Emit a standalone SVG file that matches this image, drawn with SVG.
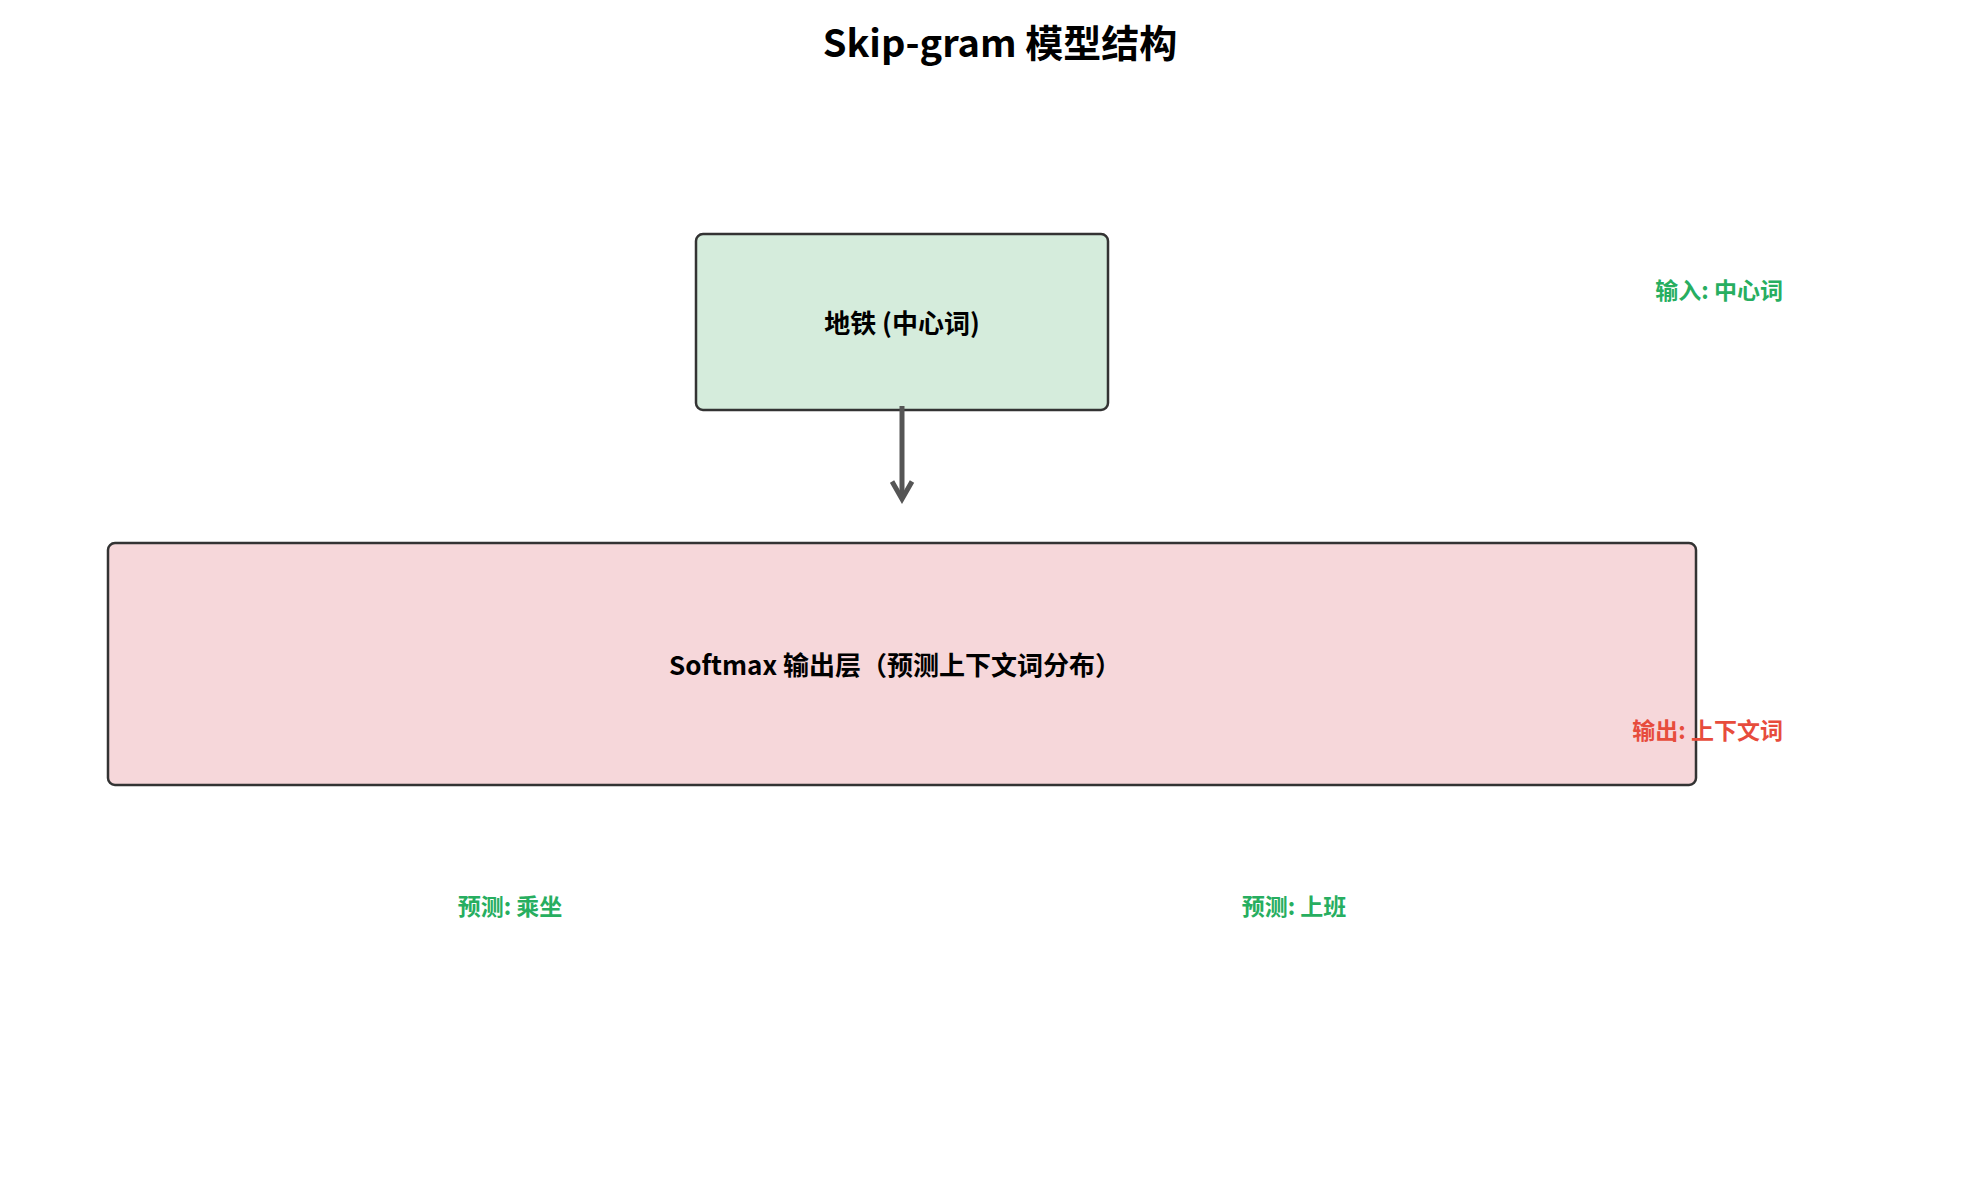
<svg xmlns="http://www.w3.org/2000/svg" width="1979" height="1180" viewBox="0 0 1979 1180">
<style>
text{font-family:"Noto Sans CJK SC","Liberation Sans",sans-serif;font-weight:bold;dominant-baseline:central}
.node{stroke:#333;stroke-width:2.5}
.lbl{font-size:23px;fill:#27ae60}
</style>
<defs><marker id="ah" viewBox="0 0 10 10" refX="8" refY="5" markerWidth="5" markerHeight="5" orient="auto"><path d="M1,1 L8,5 L1,9" fill="none" stroke="#555" stroke-width="2"/></marker></defs>
<rect width="1979" height="1180" fill="#fff"/>
<text x="1000" y="40" font-size="38" text-anchor="middle">Skip-gram 模型结构</text>
<g id="center"><rect class="node" x="696" y="234" width="412" height="176" rx="7" fill="#d5ecdc"/><text x="902" y="321" font-size="26" text-anchor="middle">地铁 (中心词)</text></g>
<g id="softmax"><rect class="node" x="108" y="543" width="1588" height="242" rx="7" fill="#f6d7da"/><text x="895" y="663" font-size="26" text-anchor="middle">Softmax 输出层（预测上下文词分布）</text></g>
<g id="connectors"><line x1="902" y1="406" x2="902" y2="499" stroke="#555" stroke-width="5" marker-end="url(#ah)"/></g>
<g id="labels">
<text class="lbl" x="1783" y="289" text-anchor="end">输入: 中心词</text>
<text class="lbl" x="1783" y="729" text-anchor="end" style="fill:#e74c3c">输出: 上下文词</text>
<text class="lbl" x="510" y="905" text-anchor="middle">预测: 乘坐</text>
<text class="lbl" x="1294" y="905" text-anchor="middle">预测: 上班</text>
</g>
</svg>
